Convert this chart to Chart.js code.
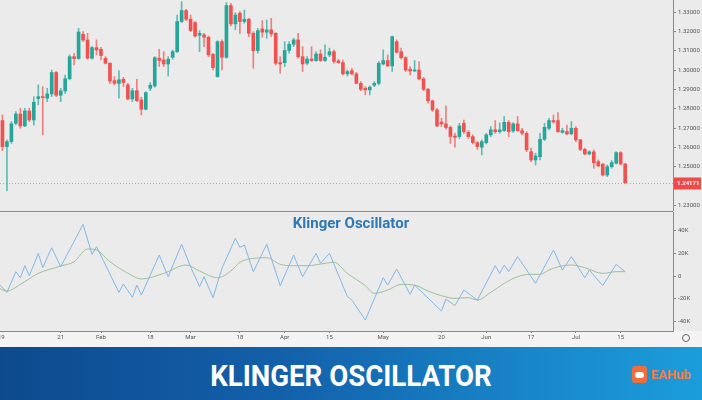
<!DOCTYPE html>
<html>
<head>
<meta charset="utf-8">
<script src="https://cdn.jsdelivr.net/npm/chart.js@4.4.1/dist/chart.umd.min.js"></script>
<style>
  body { margin:0; width:702px; height:400px; overflow:hidden; background:#ebebeb; position:relative; font-family:Roboto, sans-serif; }
  #strip { position:absolute; left:0; top:331px; width:702px; height:16px; background:#f3f3f3; }
  #priceChart { position:absolute; left:0; top:0; }
  #sep { position:absolute; left:0; top:211px; width:673px; height:1px; background:#8e8e8e; }
  #oscChart { position:absolute; left:0; top:212px; }
  #oscTitle { position:absolute; left:0; top:216px; width:702px; text-align:center; font:bold 15px Roboto, sans-serif; line-height:15px; color:#2f78b6; }
  #gear { position:absolute; left:682px; top:334px; width:6px; height:6px; border:1px solid #666; border-radius:50%; }
  #banner { position:absolute; left:0; top:347px; width:702px; height:53px;
    background:linear-gradient(90deg, #0d4a8d 0%, #1360aa 40%, #1886c8 75%, #1b9ddb 100%); }
  #banner .title { position:absolute; left:0; top:2px; width:702px; text-align:center; color:#fff;
    font:bold 30px Roboto, sans-serif; line-height:53px; transform:scaleX(0.92); }
  #banner .icon { position:absolute; left:632px; top:19px; width:15px; height:17px; border-radius:3px; background:#f26d3d; }
  #banner .icon i { position:absolute; left:3px; top:6px; width:9px; height:6px; border-radius:3px; background:#fff; }
  #banner .brand { position:absolute; left:651px; top:19px; color:#f47b47; font:bold 13px Roboto, sans-serif; line-height:17px; }
</style>
</head>
<body>
<div id="strip"></div>
<canvas id="priceChart" width="702" height="211"></canvas>
<div id="sep"></div>
<canvas id="oscChart" width="702" height="134"></canvas>
<div id="oscTitle">Klinger Oscillator</div>
<div id="gear"></div>
<div id="banner">
  <div class="title">KLINGER OSCILLATOR</div>
  <div class="icon"><i></i></div>
  <div class="brand">EAHub</div>
</div>
<script>
// daily candles, 2 Jan - 16 Jul 2019 (day index counts weekdays from 1 Jan)
const opens = [1.2739,1.2604,1.2630,1.2725,1.2773,1.2711,1.2789,1.2742,1.2853,1.2863,
  1.2855,1.2877,1.2988,1.2870,1.2893,1.2956,1.3070,1.3060,1.3186,1.3157,
  1.3062,1.3117,1.3108,1.3062,1.3036,1.2946,1.2932,1.2953,1.2924,1.2851,
  1.2894,1.2846,1.2798,1.2906,1.2918,1.3062,1.3053,1.3032,1.3067,1.3096,
  1.3252,1.3309,1.3264,1.3247,1.3181,1.3183,1.3171,1.3082,1.2967,1.3148,
  1.3067,1.3335,1.3240,1.3295,1.3252,1.3264,1.3191,1.3102,1.3214,1.3197,
  1.3209,1.3191,1.3039,1.3039,1.3102,1.3134,1.3157,1.3070,1.3036,1.3058,
  1.3050,1.3084,1.3050,1.3079,1.3096,1.3048,1.3039,1.2981,1.2998,1.2981,
  1.2932,1.2906,1.2898,1.2922,1.2932,1.3032,1.3050,1.3022,1.3148,1.3096,
  1.3065,1.3005,1.2996,1.3001,1.2955,1.2901,1.2841,1.2794,1.2732,1.2722,
  1.2704,1.2659,1.2656,1.2725,1.2678,1.2656,1.2625,1.2601,1.2625,1.2665,
  1.2691,1.2682,1.2687,1.2730,1.2685,1.2722,1.2687,1.2673,1.2578,1.2535,
  1.2552,1.2642,1.2699,1.2739,1.2739,1.2678,1.2682,1.2670,1.2699,1.2639,
  1.2590,1.2566,1.2577,1.2526,1.2513,1.2457,1.2500,1.2518,1.2573,1.2514];
const highs = [1.2768,1.2639,1.2734,1.2786,1.2803,1.2803,1.2803,1.2863,1.2924,1.2915,
  1.2906,1.3001,1.2993,1.2906,1.2975,1.3079,1.3088,1.3217,1.3200,1.3191,
  1.3122,1.3157,1.3119,1.3070,1.3039,1.2967,1.2998,1.2963,1.2932,1.2906,
  1.2953,1.2860,1.2889,1.2936,1.3070,1.3108,1.3096,1.3070,1.3105,1.3286,
  1.3355,1.3316,1.3286,1.3252,1.3205,1.3191,1.3177,1.3088,1.3153,1.3157,
  1.3350,1.3347,1.3298,1.3304,1.3312,1.3269,1.3200,1.3217,1.3257,1.3260,
  1.3269,1.3195,1.3070,1.3148,1.3148,1.3165,1.3191,1.3122,1.3070,1.3122,
  1.3096,1.3105,1.3131,1.3114,1.3105,1.3057,1.3053,1.3001,1.3010,1.2988,
  1.2941,1.2915,1.2918,1.2941,1.3045,1.3105,1.3079,1.3177,1.3157,1.3114,
  1.3070,1.3019,1.3050,1.3045,1.2963,1.2906,1.2846,1.2803,1.2751,1.2815,
  1.2711,1.2673,1.2725,1.2742,1.2687,1.2665,1.2630,1.2639,1.2673,1.2708,
  1.2739,1.2728,1.2760,1.2739,1.2728,1.2760,1.2699,1.2682,1.2596,1.2570,
  1.2673,1.2725,1.2751,1.2768,1.2780,1.2699,1.2716,1.2734,1.2708,1.2642,
  1.2596,1.2583,1.2587,1.2535,1.2518,1.2509,1.2532,1.2578,1.2578,1.2518];
const lows = [1.2583,1.2376,1.2621,1.2716,1.2699,1.2708,1.2734,1.2716,1.2820,1.2665,
  1.2837,1.2863,1.2863,1.2837,1.2880,1.2950,1.3027,1.3057,1.3148,1.3057,
  1.3057,1.3079,1.3053,1.3032,1.2932,1.2924,1.2855,1.2915,1.2846,1.2837,
  1.2837,1.2768,1.2794,1.2894,1.2912,1.3019,1.3019,1.2970,1.3057,1.3091,
  1.3247,1.3257,1.3200,1.3171,1.3096,1.3122,1.3070,1.3001,1.2963,1.3001,
  1.3062,1.3229,1.3209,1.3191,1.3243,1.3174,1.3010,1.3088,1.3171,1.3165,
  1.3174,1.3027,1.2984,1.3019,1.3088,1.3122,1.3062,1.2993,1.3027,1.3045,
  1.3045,1.3045,1.3045,1.3070,1.3036,1.3036,1.2975,1.2970,1.2975,1.2929,
  1.2894,1.2872,1.2872,1.2915,1.2924,1.3027,1.3019,1.2993,1.3088,1.3057,
  1.2993,1.2975,1.2993,1.2950,1.2894,1.2829,1.2786,1.2708,1.2708,1.2694,
  1.2621,1.2601,1.2647,1.2673,1.2647,1.2618,1.2590,1.2561,1.2618,1.2656,
  1.2673,1.2673,1.2682,1.2656,1.2677,1.2682,1.2665,1.2578,1.2526,1.2509,
  1.2535,1.2635,1.2691,1.2725,1.2677,1.2673,1.2665,1.2665,1.2630,1.2583,
  1.2561,1.2561,1.2492,1.2500,1.2452,1.2449,1.2492,1.2514,1.2509,1.2414];
const closes = [1.2604,1.2630,1.2722,1.2773,1.2711,1.2789,1.2742,1.2834,1.2863,1.2858,
  1.2877,1.2988,1.2870,1.2893,1.2956,1.3070,1.3060,1.3198,1.3157,1.3062,
  1.3117,1.3105,1.3076,1.3036,1.2944,1.2932,1.2950,1.2936,1.2851,1.2894,
  1.2842,1.2798,1.2884,1.2922,1.3065,1.3050,1.3032,1.3057,1.3096,1.3252,
  1.3309,1.3264,1.3205,1.3177,1.3191,1.3171,1.3079,1.3013,1.3148,1.3067,
  1.3335,1.3240,1.3286,1.3252,1.3264,1.3191,1.3101,1.3205,1.3197,1.3209,
  1.3188,1.3036,1.3032,1.3102,1.3134,1.3157,1.3070,1.3032,1.3058,1.3050,
  1.3084,1.3050,1.3067,1.3096,1.3045,1.3039,1.2981,1.2993,1.2981,1.2932,
  1.2901,1.2898,1.2912,1.2932,1.3036,1.3050,1.3022,1.3174,1.3093,1.3065,
  1.3001,1.2996,1.3001,1.2955,1.2901,1.2841,1.2794,1.2711,1.2722,1.2703,
  1.2656,1.2652,1.2711,1.2682,1.2656,1.2625,1.2604,1.2630,1.2665,1.2691,
  1.2682,1.2691,1.2730,1.2682,1.2722,1.2687,1.2673,1.2587,1.2535,1.2556,
  1.2642,1.2704,1.2739,1.2732,1.2682,1.2687,1.2670,1.2699,1.2639,1.2590,
  1.2566,1.2577,1.2521,1.2504,1.2457,1.2500,1.2521,1.2573,1.2514,1.24171];

// Klinger oscillator (thousands) at its turning points, and its signal line
const kvoDays = [0,2,4,5,6,7,9,10,12,14,19,21,22,27,28,30,31,32,36,38,41,43,45,46,48,50,53,54,55,57,
  60,63,66,68,71,72,74,78,79,82,86,87,89,92,93,99,100,102,104,107,111,112,113,114,116,120,124,126,128,131,132,135,138,140];
const kvoK = [-6,-14.3,3.8,-1.5,9.0,0.3,19.8,7.3,24.7,8.1,45.1,18.9,25.6,-14.3,-7.0,-18.6,-7.9,-16.6,18.3,-0.6,
  27.7,8.1,-9.3,-0.6,-18.9,6.7,32.9,25,27.1,3.8,27.7,-8.4,18.3,-0.6,19.8,11.1,19.8,-18.0,-21.0,-38.4,
  -1.5,-7.9,6.1,-16.0,-7.9,-30.6,-20.1,-25.9,-12.2,-21.0,9.0,2.3,9.6,3.8,16.9,-6.4,22.7,5.2,16.9,-1.5,
  5.2,-8.4,10.2,3.8];
const signalDays = [0,2,5,9,14,17,20,22,25,30,32,37,42,45,49,52,54,56,60,63,66,69,73,75,78,82,84,87,90,93,
  96,99,102,105,107,110,113,116,119,121,123,125,128,131,135,138,140];
const signalK = [-10.2,-13.1,-7.3,2.3,8.7,12.5,23.6,22.7,12.5,0.3,-2.6,2.3,9.6,4.4,-1.5,4.4,12,14.8,16.0,10.2,
  9.0,9.0,11.1,12.0,2.3,-8.4,-15.1,-12.2,-7.3,-7.9,-13.1,-17.2,-19.5,-18.9,-21.0,-14.3,-6.4,-0.6,1.5,1.5,
  5.2,8.1,9.6,7.3,2.3,3.8,3.8];

const priceTicks = [1.23,1.24,1.25,1.26,1.27,1.28,1.29,1.30,1.31,1.32,1.33];
const oscTicks = [-40,-20,0,20,40];
const dateTickDays = [0,14,23,34,43,54,64,74,86,99,109,119,129,139];
const dateTickLabels = ['2019','21','Feb','18','Mar','18','Apr','15','May','20','Jun','17','Jul','15'];

const days = opens.map((_, k) => k + 1);
const upColor = '#26a69a';
const downColor = '#ef5350';
const isUp = days.map((_, k) => closes[k] >= opens[k]);

// visible day range shared by both panels
const xMin = 0.455;
const xMax = 150.68;
const tickFont = { family: 'Roboto', size: 6 };

// dotted line and red box for the last close
const lastPricePlugin = {
  id: 'lastPrice',
  afterDraw(chart) {
    const { ctx, chartArea, scales } = chart;
    const last = closes[closes.length - 1];
    const y = Math.round(scales.y.getPixelForValue(last)) + 0.5;
    ctx.save();
    ctx.strokeStyle = 'rgba(239,83,80,0.55)';
    ctx.lineWidth = 1;
    ctx.setLineDash([1, 2]);
    ctx.beginPath();
    ctx.moveTo(chartArea.left, y);
    ctx.lineTo(chartArea.right, y);
    ctx.stroke();
    ctx.setLineDash([]);
    ctx.fillStyle = '#ee4a4a';
    ctx.fillRect(chartArea.right + 1, y - 6, 27, 12);
    ctx.fillStyle = '#fff';
    ctx.font = 'bold 6px Roboto';
    ctx.textBaseline = 'middle';
    ctx.fillText(last.toFixed(5), chartArea.right + 4, y);
    ctx.restore();
  }
};

new Chart(document.getElementById('priceChart'), {
  type: 'bar',
  data: {
    datasets: [
      {
        label: 'wick',
        data: days.map((d, k) => ({ x: d, y: [lows[k], highs[k]] })),
        backgroundColor: isUp.map(u => u ? 'rgba(38,166,154,0.7)' : 'rgba(239,83,80,0.7)'),
        barThickness: 1,
        grouped: false
      },
      {
        label: 'body',
        data: days.map((d, k) => ({ x: d, y: [opens[k], closes[k]] })),
        backgroundColor: isUp.map(u => u ? upColor : downColor),
        barThickness: 3,
        minBarLength: 1,
        grouped: false
      }
    ]
  },
  options: {
    responsive: false,
    animation: false,
    events: [],
    layout: { padding: 0 },
    plugins: { legend: { display: false }, tooltip: { enabled: false } },
    scales: {
      x: { type: 'linear', min: xMin, max: xMax, offset: false, display: false },
      y: {
        position: 'right',
        min: 1.22705,
        max: 1.33637,
        afterBuildTicks: s => { s.ticks = priceTicks.map(v => ({ value: v })); },
        afterFit: s => { s.width = 29; s.paddingTop = 0; s.paddingBottom = 0; },
        ticks: { font: tickFont, color: '#555', padding: 2, callback: v => v.toFixed(5) },
        grid: { drawOnChartArea: false, tickLength: 3, color: '#888' },
        border: { color: '#8a8a8a' }
      }
    }
  },
  plugins: [lastPricePlugin]
});

new Chart(document.getElementById('oscChart'), {
  type: 'line',
  data: {
    datasets: [
      {
        label: 'KVO',
        data: kvoDays.map((d, k) => ({ x: d, y: kvoK[k] })),
        borderColor: '#80b8e6',
        borderWidth: 1,
        pointRadius: 0,
        tension: 0
      },
      {
        label: 'Signal',
        data: signalDays.map((d, k) => ({ x: d, y: signalK[k] })),
        borderColor: '#9dbf98',
        borderWidth: 1,
        pointRadius: 0,
        cubicInterpolationMode: 'monotone'
      }
    ]
  },
  options: {
    responsive: false,
    animation: false,
    events: [],
    layout: { padding: 0 },
    plugins: { legend: { display: false }, tooltip: { enabled: false } },
    scales: {
      x: {
        type: 'linear',
        min: xMin,
        max: xMax,
        offset: false,
        afterBuildTicks: s => { s.ticks = dateTickDays.map(v => ({ value: v })); },
        afterFit: s => { s.height = 15; s.paddingLeft = 0; s.paddingRight = 0; },
        ticks: {
          autoSkip: false, maxRotation: 0, font: tickFont, color: '#555', padding: 1,
          callback: v => dateTickLabels[dateTickDays.indexOf(v)]
        },
        grid: { drawOnChartArea: false, tickLength: 2, color: '#888' },
        border: { color: '#8a8a8a' }
      },
      y: {
        position: 'right',
        min: -48.0,
        max: 55.9,
        afterBuildTicks: s => { s.ticks = oscTicks.map(v => ({ value: v })); },
        afterFit: s => { s.width = 29; s.paddingTop = 0; s.paddingBottom = 0; },
        ticks: { font: tickFont, color: '#555', padding: 2, callback: v => v === 0 ? '0' : v + 'K' },
        grid: { drawOnChartArea: false, tickLength: 3, color: '#888' },
        border: { color: '#8a8a8a' }
      }
    }
  }
});
</script>
</body>
</html>
